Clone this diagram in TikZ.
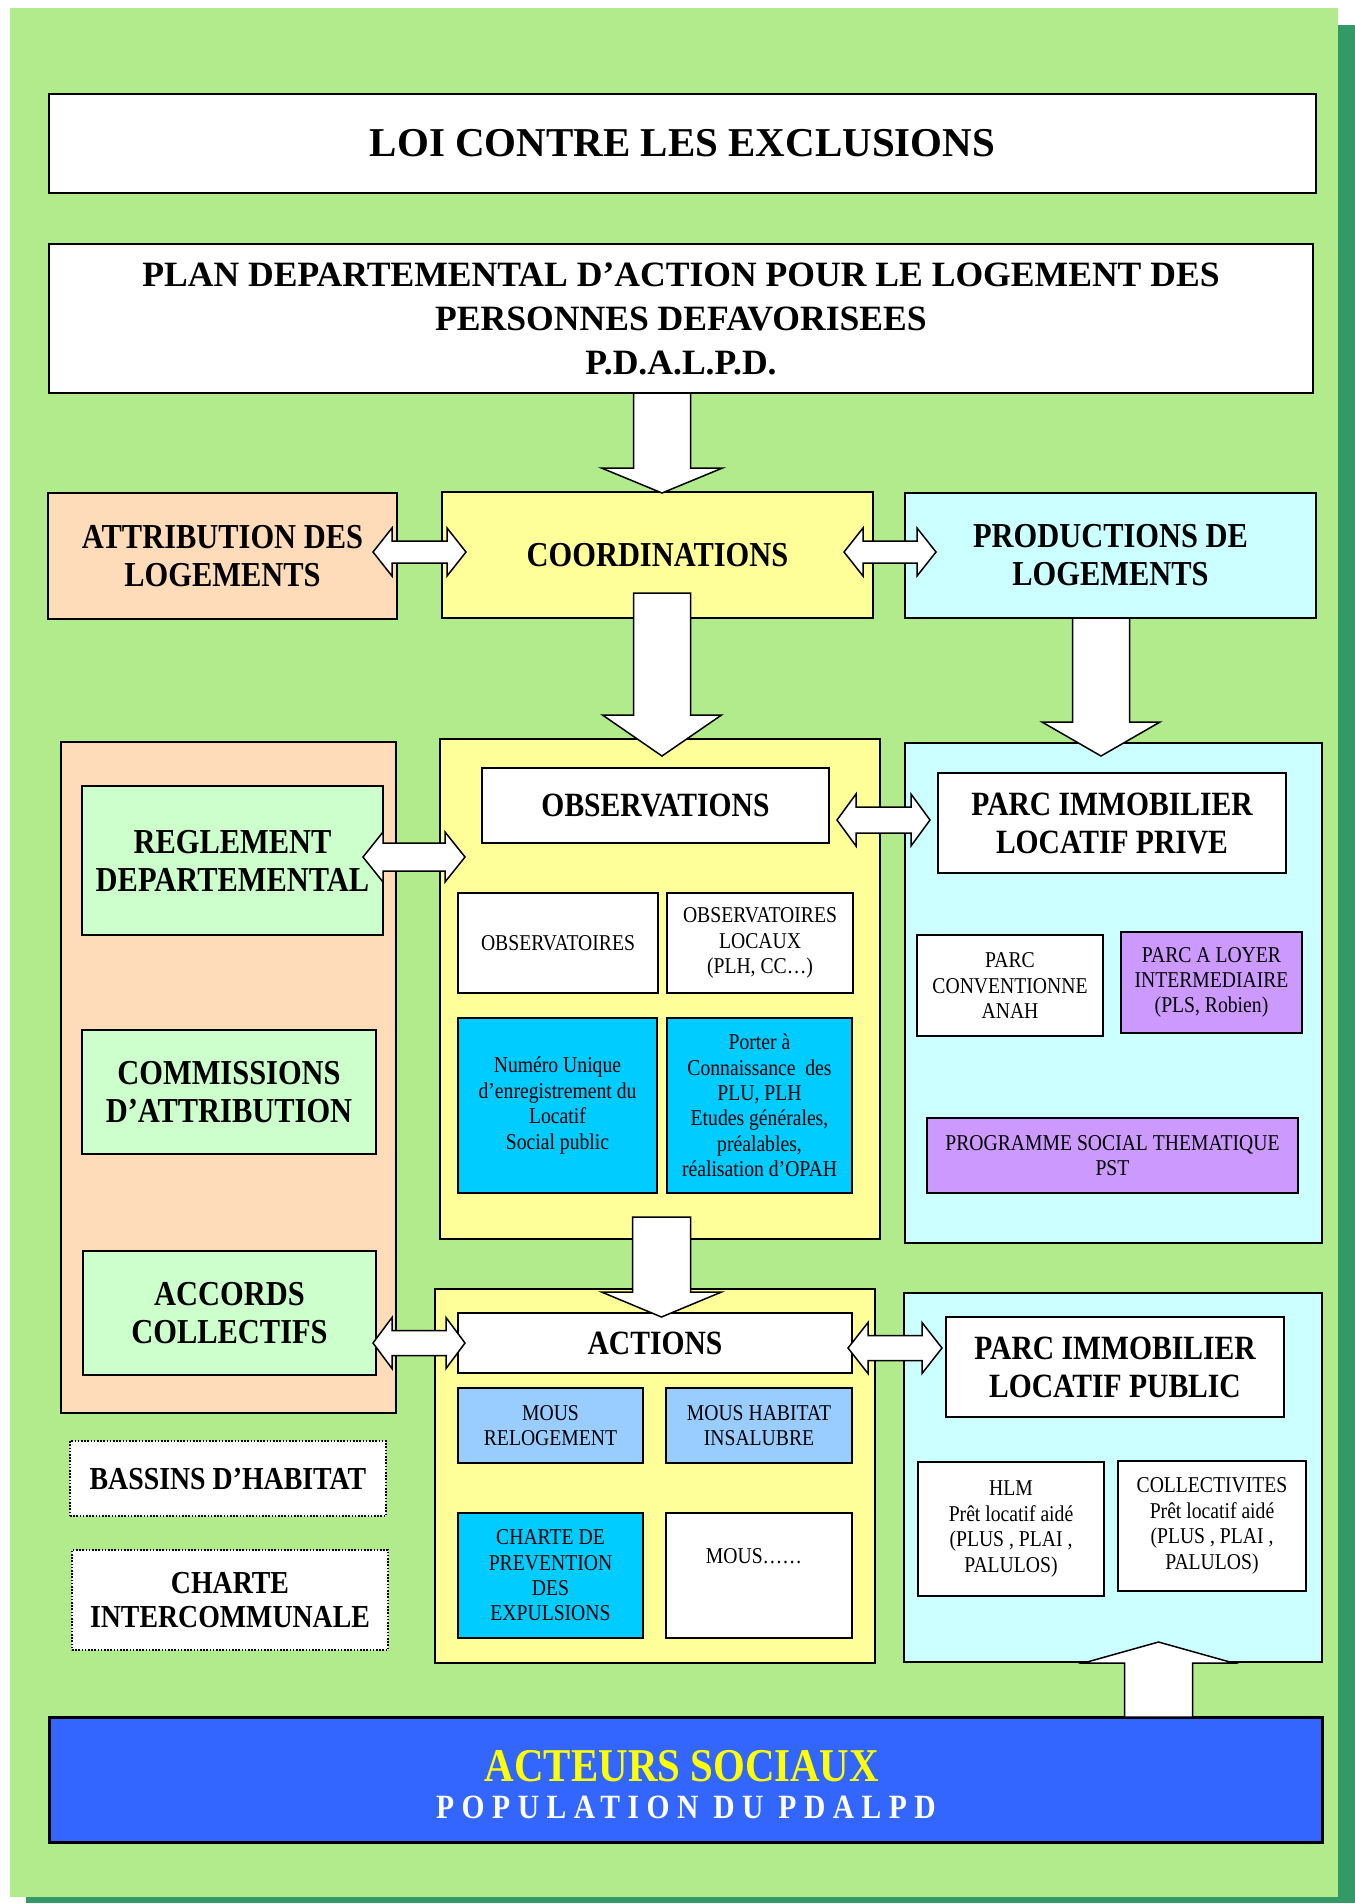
\documentclass[tikz,border=0pt]{standalone}
\usepackage{fontspec}
\setmainfont{Liberation Serif}
\newfontfamily\condSerif[FakeStretch=0.87]{Liberation Serif}
\usetikzlibrary{calc}
\definecolor{bggreen}{RGB}{178,235,140}
\definecolor{shadowgreen}{RGB}{51,153,102}
\definecolor{peach}{RGB}{255,220,185}
\definecolor{yel}{RGB}{255,255,153}
\definecolor{lcyan}{RGB}{204,255,255}
\definecolor{lgreen}{RGB}{204,255,204}
\definecolor{cyanb}{RGB}{0,204,255}
\definecolor{lblue}{RGB}{153,204,255}
\definecolor{purp}{RGB}{204,153,255}
\definecolor{bluebox}{RGB}{51,102,255}
\definecolor{yellowtxt}{RGB}{255,255,0}
\newcommand\myFTitle{\fontsize{20.5}{24}\selectfont\bfseries}
\newcommand\myFPd{\fontsize{17.8}{22}\selectfont\bfseries}
\newcommand\myFBig{\condSerif\fontsize{17.5}{19}\selectfont\bfseries}
\newcommand\myFDot{\condSerif\fontsize{16}{17}\selectfont\bfseries}
\newcommand\myFMid{\condSerif\fontsize{17}{19}\selectfont\bfseries}
\newcommand\myFSmall{\condSerif\fontsize{11.3}{12.7}\selectfont}
\newcommand\myFActeurs{\condSerif\fontsize{23.5}{26}\selectfont\bfseries}
\newcommand\myFPop{\condSerif\fontsize{17}{20}\selectfont\bfseries\addfontfeature{LetterSpace=22}}
% box: name, x1, y1, x2, y2 (px), style, text
\newcommand\bx[7]{\node[box,#6,minimum width={(#4-#2)*0.5pt},minimum height={(#5-#3)*0.5pt}] (#1) at ({(#2+#4)/2},{(#3+#5)/2}) {#7};}
% down/up block arrow: start, tip, shaft half width, head half width, head length (signed)
\newcommand\vArrow[5]{\draw[blockarrow] ($(#1)+(-#3,0)$) -- ($(#1)+(#3,0)$) -- ($(#2)+({#3},{-1*(#5)})$) -- ($(#2)+({#4},{-1*(#5)})$) -- (#2) -- ($(#2)+({-1*(#4)},{-1*(#5)})$) -- ($(#2)+({-1*(#3)},{-1*(#5)})$) -- cycle;}
% horizontal double arrow: left tip, right tip, shaft half height, head half height, head length
\newcommand\dblArrow[5]{\draw[blockarrow] (#1) -- ($(#1)+(#5,-#4)$) -- ($(#1)+(#5,-#3)$) -- ($(#2)+(-#5,-#3)$) -- ($(#2)+(-#5,-#4)$) -- (#2) -- ($(#2)+(-#5,#4)$) -- ($(#2)+(-#5,#3)$) -- ($(#1)+(#5,#3)$) -- ($(#1)+(#5,#4)$) -- cycle;}
\begin{document}
\begin{tikzpicture}[x=0.5pt,y=-0.5pt,
  box/.style={draw=black,line width=1pt,inner sep=0pt,align=center,text=black},
  dotbox/.style={dash pattern=on 0.8pt off 0.8pt,line width=1pt},
  blockarrow/.style={fill=white,draw=black,line width=0.75pt,line join=miter}]
\useasboundingbox (0,0) rectangle (1355,1903);
\fill[white] (0,0) rectangle (1355,1903);
\fill[shadowgreen] (26,25) rectangle (1355,1903);
\fill[bggreen] (10,8) rectangle (1338,1897);

\bx{loi}{49}{94}{1316}{193}{fill=white,font=\myFTitle}{LOI CONTRE LES EXCLUSIONS}
\bx{pdalpd}{49}{244}{1313}{393}{fill=white,font=\myFPd}{PLAN DEPARTEMENTAL D’ACTION POUR LE LOGEMENT DES\\PERSONNES DEFAVORISEES\\P.D.A.L.P.D.}

\bx{attrib}{48}{493}{397}{619}{fill=peach,font=\myFBig}{ATTRIBUTION DES\\LOGEMENTS}
\bx{coord}{442}{492}{873}{618}{fill=yel,font=\myFBig}{COORDINATIONS}
\bx{prod}{905}{493}{1316}{618}{fill=lcyan,font=\myFBig}{PRODUCTIONS DE\\LOGEMENTS}

\bx{leftcol}{61}{742}{396}{1413}{fill=peach}{}
\bx{regl}{82}{786}{383}{935}{fill=lgreen,font=\myFBig}{REGLEMENT\\DEPARTEMENTAL}
\bx{comm}{82}{1030}{376}{1154}{fill=lgreen,font=\myFBig}{COMMISSIONS\\D’ATTRIBUTION}
\bx{accords}{83}{1251}{376}{1375}{fill=lgreen,font=\myFBig}{ACCORDS\\COLLECTIFS}
\bx{bassins}{70}{1441}{386}{1516}{fill=white,dotbox,font=\myFDot}{BASSINS D’HABITAT}
\bx{charte}{72}{1550}{388}{1650}{fill=white,dotbox,font=\myFDot}{CHARTE\\INTERCOMMUNALE}

\bx{obsbg}{440}{739}{880}{1239}{fill=yel}{}
\bx{observ}{482}{768}{829}{843}{fill=white,font=\myFMid}{OBSERVATIONS}
\bx{obsnat}{458}{893}{658}{993}{fill=white,font=\myFSmall}{OBSERVATOIRES}
\bx{obsloc}{667}{893}{853}{993}{fill=white,font=\myFSmall}{OBSERVATOIRES\\LOCAUX\\(PLH, CC…)}
\bx{numero}{458}{1018}{657}{1193}{fill=cyanb,font=\myFSmall}{Numéro Unique\\d’enregistrement du\\Locatif\\Social public}
\bx{porter}{667}{1018}{852}{1193}{fill=cyanb,font=\myFSmall}{Porter à\\Connaissance~ des\\PLU, PLH\\Etudes générales,\\préalables,\\réalisation d’OPAH}

\bx{prive}{905}{743}{1322}{1243}{fill=lcyan}{}
\bx{parcprive}{938}{773}{1286}{873}{fill=white,font=\myFMid}{PARC IMMOBILIER\\LOCATIF PRIVE}
\bx{conv}{917}{935}{1103}{1036}{fill=white,font=\myFSmall}{PARC\\CONVENTIONNE\\ANAH}
\bx{loyer}{1121}{932}{1302}{1033}{fill=purp,font=\myFSmall}{PARC A LOYER\\INTERMEDIAIRE\\(PLS, Robien)}
\bx{pst}{927}{1118}{1298}{1193}{fill=purp,font=\myFSmall}{PROGRAMME SOCIAL THEMATIQUE\\PST}

\bx{actbg}{435}{1289}{875}{1663}{fill=yel}{}
\bx{actions}{458}{1313}{852}{1373}{fill=white,font=\myFMid}{ACTIONS}
\bx{mousrel}{458}{1388}{643}{1463}{fill=lblue,font=\myFSmall}{MOUS\\RELOGEMENT}
\bx{mousins}{666}{1388}{852}{1463}{fill=lblue,font=\myFSmall}{MOUS HABITAT\\INSALUBRE}
\bx{charteprev}{458}{1513}{643}{1638}{fill=cyanb,font=\myFSmall}{CHARTE DE\\PREVENTION\\DES\\EXPULSIONS}
\bx{mousdots}{666}{1513}{852}{1638}{fill=white}{}
\node[font=\myFSmall,inner sep=0pt] (mousdotstxt) at (754,1556) {MOUS……};

\bx{public}{904}{1293}{1322}{1662}{fill=lcyan}{}
\bx{parcpub}{946}{1317}{1284}{1417}{fill=white,font=\myFMid}{PARC IMMOBILIER\\LOCATIF PUBLIC}
\bx{hlm}{918}{1462}{1104}{1596}{fill=white,font=\myFSmall}{HLM\\Prêt locatif aidé\\(PLUS , PLAI ,\\PALULOS)}
\bx{coll}{1118}{1461}{1306}{1591}{fill=white,font=\myFSmall}{COLLECTIVITES\\Prêt locatif aidé\\(PLUS , PLAI ,\\PALULOS)}

\bx{acteurs}{49}{1717}{1322}{1842}{fill=bluebox,line width=1.5pt}{}
\node[font=\myFActeurs,text=yellowtxt,inner sep=0pt] (acteurstxt) at (682,1766) {ACTEURS SOCIAUX};
\node[font=\myFPop,text=white,inner sep=0pt] (poptxt) at (686,1807) {POPULATION DU PDALPD};

% connectors
\coordinate (a1s) at (662,393); \coordinate (a1t) at (662,493);
\coordinate (a2s) at (662,593); \coordinate (a2t) at (662,756);
\coordinate (a3s) at (1101,618); \coordinate (a3t) at (1101,756);
\coordinate (a4s) at (661.5,1217); \coordinate (a4t) at (661.5,1317);
\coordinate (a5s) at (1158.5,1717); \coordinate (a5t) at (1158.5,1642);
\vArrow{a1s}{a1t}{28.5}{60.5}{25}
\vArrow{a2s}{a2t}{28.5}{59.5}{41}
\vArrow{a3s}{a3t}{28.5}{59}{34}
\vArrow{a4s}{a4t}{29}{60}{25}
\vArrow{a5s}{a5t}{34}{75}{-21}

\coordinate (d1l) at (373,552); \coordinate (d1r) at (466,552);
\coordinate (d2l) at (844,552); \coordinate (d2r) at (936,552);
\coordinate (d3l) at (363,857); \coordinate (d3r) at (465,857);
\coordinate (d4l) at (837,820); \coordinate (d4r) at (930,820);
\coordinate (d5l) at (373,1343); \coordinate (d5r) at (465,1343);
\coordinate (d6l) at (848,1348); \coordinate (d6r) at (942,1348);
\dblArrow{d1l}{d1r}{11}{24}{19}
\dblArrow{d2l}{d2r}{11}{24}{19}
\dblArrow{d3l}{d3r}{14}{25}{20}
\dblArrow{d4l}{d4r}{13}{26}{19}
\dblArrow{d5l}{d5r}{12.5}{25.5}{19}
\dblArrow{d6l}{d6r}{12.5}{25.5}{20}
\end{tikzpicture}
\end{document}
